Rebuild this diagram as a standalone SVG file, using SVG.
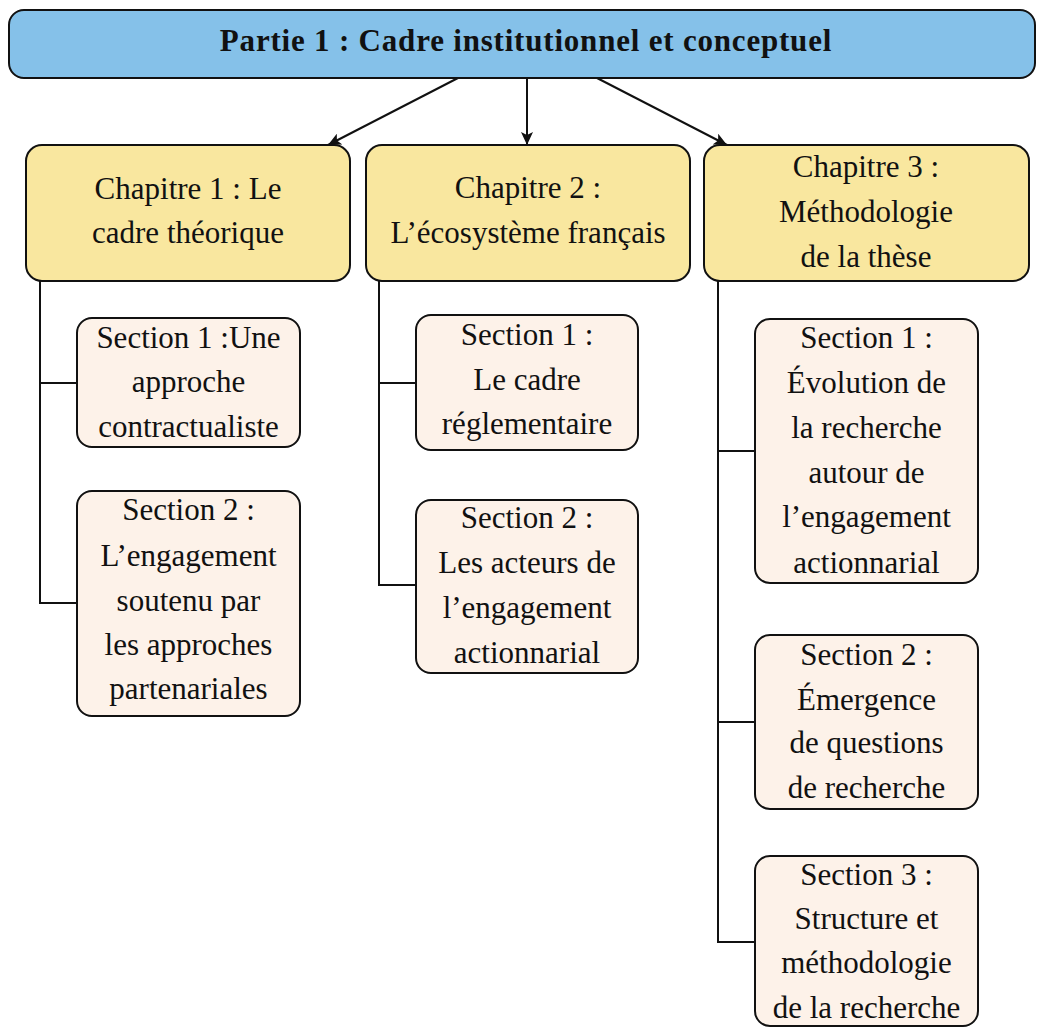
<svg xmlns="http://www.w3.org/2000/svg" width="1037" height="1028" viewBox="0 0 1037 1028">
<style>
.part{fill:#85C1E9;stroke:#111;stroke-width:2}
.chap{fill:#F9E79F;stroke:#111;stroke-width:2}
.sec{fill:#FDF2E9;stroke:#111;stroke-width:2}
.t{font-family:"Liberation Serif","Times New Roman",serif;font-size:31px;fill:#111;text-anchor:middle}
.tb{font-family:"Liberation Serif","Times New Roman",serif;font-size:31px;font-weight:bold;letter-spacing:0.8px;fill:#111;text-anchor:middle}
.ln{fill:none;stroke:#111;stroke-width:2}
</style>
<defs>
<marker id="arr" markerUnits="userSpaceOnUse" markerWidth="14" markerHeight="12" refX="13" refY="6" orient="auto">
<path d="M0,0 L13,6 L0,12 L3,6 Z" fill="#111"/>
</marker>
</defs>
<g id="connectors">
<line class="ln" x1="458" y1="78" x2="328" y2="145" marker-end="url(#arr)"/>
<line class="ln" x1="527" y1="78" x2="527" y2="145" marker-end="url(#arr)"/>
<line class="ln" x1="597" y1="78" x2="727" y2="145" marker-end="url(#arr)"/>
<path class="ln" d="M40,281 V603 H77 M40,383 H77"/>
<path class="ln" d="M379,281 V585 H416 M379,383 H416"/>
<path class="ln" d="M718,281 V942 H755 M718,451 H755 M718,722 H755"/>
</g>
<g id="partie1">
<rect class="part" x="9" y="10" width="1026" height="68" rx="15"/>
<text class="tb" x="526" y="51">Partie 1 : Cadre institutionnel et conceptuel</text>
</g>
<g id="chap1">
<rect class="chap" x="26" y="145" width="324" height="136" rx="16"/>
<text class="t" x="188" y="199">Chapitre 1 : Le</text>
<text class="t" x="188" y="243">cadre théorique</text>
</g>
<g id="chap2">
<rect class="chap" x="366" y="145" width="324" height="136" rx="16"/>
<text class="t" x="528" y="198">Chapitre 2 :</text>
<text class="t" x="528" y="243">L’écosystème français</text>
</g>
<g id="chap3">
<rect class="chap" x="704" y="145" width="325" height="136" rx="16"/>
<text class="t" x="866" y="177">Chapitre 3 :</text>
<text class="t" x="866" y="222">Méthodologie</text>
<text class="t" x="866" y="267">de la thèse</text>
</g>
<g id="c1s1">
<rect class="sec" x="77" y="318" width="223" height="129" rx="15"/>
<text class="t" x="188.5" y="348">Section 1 :Une</text>
<text class="t" x="188.5" y="392">approche</text>
<text class="t" x="188.5" y="437">contractualiste</text>
</g>
<g id="c1s2">
<rect class="sec" x="77" y="491" width="223" height="225" rx="15"/>
<text class="t" x="188.5" y="520">Section 2 :</text>
<text class="t" x="188.5" y="566">L’engagement</text>
<text class="t" x="188.5" y="611">soutenu par</text>
<text class="t" x="188.5" y="655">les approches</text>
<text class="t" x="188.5" y="699">partenariales</text>
</g>
<g id="c2s1">
<rect class="sec" x="416" y="315" width="222" height="135" rx="15"/>
<text class="t" x="527" y="345">Section 1 :</text>
<text class="t" x="527" y="390">Le cadre</text>
<text class="t" x="527" y="434">réglementaire</text>
</g>
<g id="c2s2">
<rect class="sec" x="416" y="500" width="222" height="173" rx="15"/>
<text class="t" x="527" y="528">Section 2 :</text>
<text class="t" x="527" y="573">Les acteurs de</text>
<text class="t" x="527" y="618">l’engagement</text>
<text class="t" x="527" y="663">actionnarial</text>
</g>
<g id="c3s1">
<rect class="sec" x="755" y="319" width="223" height="264" rx="15"/>
<text class="t" x="866.5" y="348">Section 1 :</text>
<text class="t" x="866.5" y="393">Évolution de</text>
<text class="t" x="866.5" y="438">la recherche</text>
<text class="t" x="866.5" y="483">autour de</text>
<text class="t" x="866.5" y="527">l’engagement</text>
<text class="t" x="866.5" y="573">actionnarial</text>
</g>
<g id="c3s2">
<rect class="sec" x="755" y="635" width="223" height="174" rx="15"/>
<text class="t" x="866.5" y="665">Section 2 :</text>
<text class="t" x="866.5" y="710">Émergence</text>
<text class="t" x="866.5" y="753">de questions</text>
<text class="t" x="866.5" y="798">de recherche</text>
</g>
<g id="c3s3">
<rect class="sec" x="755" y="856" width="223" height="170" rx="15"/>
<text class="t" x="866.5" y="885">Section 3 :</text>
<text class="t" x="866.5" y="929">Structure et</text>
<text class="t" x="866.5" y="973">méthodologie</text>
<text class="t" x="866.5" y="1018">de la recherche</text>
</g>
</svg>
